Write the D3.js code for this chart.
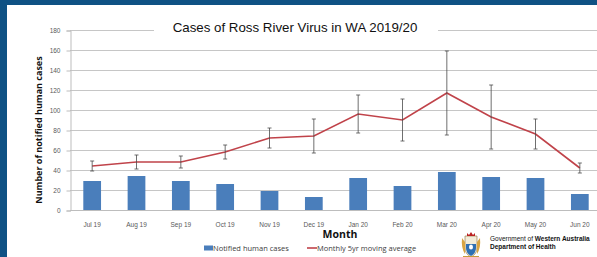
<!DOCTYPE html>
<html>
<head>
<meta charset="utf-8">
<script src="https://cdn.jsdelivr.net/npm/d3@7"></script>
<style>
  body { margin: 0; padding: 0; background: #fff; }
  svg { display: block; }
</style>
</head>
<body>
<div id="chart"></div>
<script>
// data
const months = ["Jul 19", "Aug 19", "Sep 19", "Oct 19", "Nov 19", "Dec 19",
                "Jan 20", "Feb 20", "Mar 20", "Apr 20", "May 20", "Jun 20"];
const notifiedCases = [29, 34, 29, 26, 19, 13, 32, 24, 38, 33, 32, 16];
const movingAverage = [44, 48, 48, 58, 72, 74, 96, 90, 117, 93, 76, 42];
const averageError = [5, 7, 6, 7, 10, 17, 19, 21, 42, 32, 15, 5];
const yTicks = [0, 20, 40, 60, 80, 100, 120, 140, 160, 180];

const W = 597, H = 257;
const plot = {left: 70, right: 602, top: 30, bottom: 210};

const svg = d3.select("#chart")
    .append("svg")
    .attr("width", W)
    .attr("height", H);

// frame
svg.append("rect").attr("width", W).attr("height", H).attr("fill", "#fff");
svg.append("rect").attr("x", 0).attr("y", 0).attr("width", W).attr("height", 5).attr("fill", "#0f5284");
svg.append("rect").attr("x", 0).attr("y", 0).attr("width", 7).attr("height", H).attr("fill", "#0f5284");

const x = d3.scaleBand()
    .domain(months)
    .range([plot.left, plot.right])
    .paddingInner(0.6)
    .paddingOuter(0.3);

const y = d3.scaleLinear()
    .domain([0, 180])
    .range([plot.bottom, plot.top]);

// gridlines
svg.append("g")
    .selectAll("line")
    .data(yTicks.filter(d => d > 0))
    .join("line")
    .attr("x1", plot.left)
    .attr("x2", W)
    .attr("y1", d => y(d) + 0.5)
    .attr("y2", d => y(d) + 0.5)
    .attr("stroke", "#c6c6c6")
    .attr("stroke-width", 1);

// y axis
const yAxis = svg.append("g")
    .attr("transform", `translate(${plot.left + 0.5},0.5)`)
    .call(d3.axisLeft(y).tickValues(yTicks).tickSize(4).tickPadding(6));
yAxis.select(".domain").attr("stroke", "#bdbdbd");
yAxis.selectAll(".tick line").attr("stroke", "#bdbdbd");
yAxis.selectAll("text")
    .attr("fill", "#595959")
    .style("font", "6.5px 'Liberation Sans', Arial, sans-serif");

// x axis
const xAxis = svg.append("g")
    .attr("transform", `translate(0,${plot.bottom + 0.5})`)
    .call(d3.axisBottom(x).tickSize(0).tickPadding(12));
xAxis.select(".domain").attr("stroke", "#bdbdbd").attr("d", `M${plot.left},0H${W}`);
xAxis.selectAll("text")
    .attr("fill", "#595959")
    .style("font", "6.5px 'Liberation Sans', Arial, sans-serif");

// bars
svg.append("g")
    .selectAll("rect")
    .data(notifiedCases)
    .join("rect")
    .attr("x", (d, i) => x(months[i]))
    .attr("y", d => y(d))
    .attr("width", x.bandwidth())
    .attr("height", d => y(0) - y(d))
    .attr("fill", "#4a7ebb");

const cx = i => x(months[i]) + x.bandwidth() / 2;

// moving average line
svg.append("path")
    .datum(movingAverage)
    .attr("fill", "none")
    .attr("stroke", "#c0434a")
    .attr("stroke-width", 1.6)
    .attr("d", d3.line().x((d, i) => cx(i)).y(d => y(d)));

// error bars
const err = svg.append("g").attr("stroke", "#4a4a4a").attr("stroke-width", 0.8);
err.selectAll("line.v")
    .data(movingAverage)
    .join("line")
    .attr("class", "v")
    .attr("x1", (d, i) => cx(i)).attr("x2", (d, i) => cx(i))
    .attr("y1", (d, i) => y(d + averageError[i]))
    .attr("y2", (d, i) => y(d - averageError[i]));
err.selectAll("line.t")
    .data(movingAverage)
    .join("line")
    .attr("class", "t")
    .attr("x1", (d, i) => cx(i) - 2).attr("x2", (d, i) => cx(i) + 2)
    .attr("y1", (d, i) => y(d + averageError[i]))
    .attr("y2", (d, i) => y(d + averageError[i]));
err.selectAll("line.b")
    .data(movingAverage)
    .join("line")
    .attr("class", "b")
    .attr("x1", (d, i) => cx(i) - 2).attr("x2", (d, i) => cx(i) + 2)
    .attr("y1", (d, i) => y(d - averageError[i]))
    .attr("y2", (d, i) => y(d - averageError[i]));

// title, sitting over the top gridline
svg.append("rect")
    .attr("x", 154).attr("y", 14).attr("width", 284).attr("height", 22)
    .attr("fill", "#fff");
svg.append("text")
    .attr("x", 295).attr("y", 32)
    .attr("text-anchor", "middle")
    .style("font", "13.3px 'Liberation Sans', Arial, sans-serif")
    .attr("fill", "#111")
    .text("Cases of Ross River Virus in WA 2019/20");

// axis titles
svg.append("text")
    .attr("transform", "translate(42,130) rotate(-90)")
    .attr("text-anchor", "middle")
    .style("font", "bold 9px 'Open Sans', 'DejaVu Sans', sans-serif")
    .attr("fill", "#111")
    .text("Number of notified human cases");
svg.append("text")
    .attr("x", 340).attr("y", 238)
    .attr("text-anchor", "middle")
    .style("font", "bold 10.5px 'Open Sans', 'DejaVu Sans', sans-serif")
    .attr("fill", "#111")
    .text("Month");

// legend
svg.append("rect").attr("x", 204).attr("y", 245.5).attr("width", 9).attr("height", 5).attr("fill", "#4a7ebb");
svg.append("text").attr("x", 213).attr("y", 251)
    .style("font", "7.5px 'Open Sans', 'DejaVu Sans', sans-serif").attr("fill", "#404040")
    .text("Notified human cases");
svg.append("line").attr("x1", 307).attr("x2", 317).attr("y1", 248).attr("y2", 248)
    .attr("stroke", "#c0434a").attr("stroke-width", 1.6);
svg.append("text").attr("x", 317).attr("y", 251)
    .style("font", "7.5px 'Open Sans', 'DejaVu Sans', sans-serif").attr("fill", "#404040")
    .text("Monthly 5yr moving average");

// government crest (simplified)
const crest = svg.append("g").attr("transform", "translate(462,232)");
crest.append("path").attr("d", "M3,4 L15,4 L15,16 Q15,22 9,25 Q3,22 3,16 Z")
    .attr("fill", "#f3ecd8").attr("stroke", "#8a6d3b").attr("stroke-width", 0.6);
crest.append("path").attr("d", "M4,12 L14,12 L14,16 Q14,21 9,24 Q4,21 4,16 Z").attr("fill", "#2f6fb3");
crest.append("ellipse").attr("cx", 9).attr("cy", 15).attr("rx", 2).attr("ry", 2.5).attr("fill", "#fff");
crest.append("path").attr("d", "M5,1 L7,3 L9,0 L11,3 L13,1 L13,4 L5,4 Z").attr("fill", "#b22");
crest.append("path").attr("d", "M0,6 Q-1,16 3,22 L3,10 Z").attr("fill", "#d9a441");
crest.append("path").attr("d", "M18,6 Q19,16 15,22 L15,10 Z").attr("fill", "#d9a441");
crest.append("rect").attr("x", 1).attr("y", 24).attr("width", 16).attr("height", 1.5).attr("fill", "#c99a3a");

const gov = svg.append("text").attr("x", 490).attr("y", 241)
    .style("font", "6.5px 'Liberation Sans', Arial, sans-serif").attr("fill", "#111");
gov.append("tspan").text("Government of ");
gov.append("tspan").attr("font-weight", "bold").text("Western Australia");
svg.append("text").attr("x", 490).attr("y", 249)
    .style("font", "bold 6.5px 'Liberation Sans', Arial, sans-serif").attr("fill", "#111")
    .text("Department of Health");
</script>
</body>
</html>
